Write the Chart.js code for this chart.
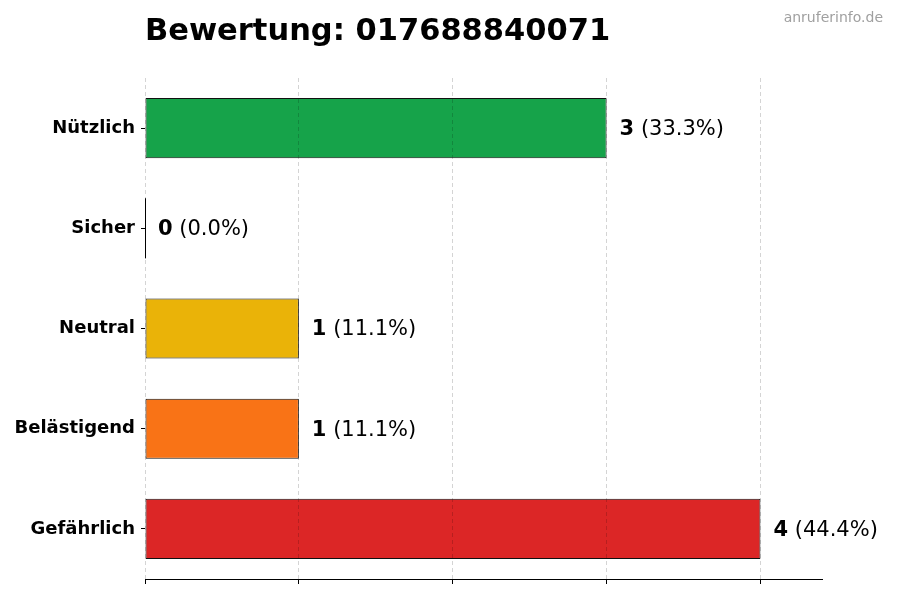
<!DOCTYPE html>
<html>
<head>
<meta charset="utf-8">
<script src="https://cdn.jsdelivr.net/npm/chart.js@4"></script>
<style>
  html, body { margin: 0; padding: 0; background: #fff; }
  #wrap { width: 900px; height: 600px; }
</style>
</head>
<body>
<div id="wrap"><canvas id="myChart" width="900" height="600"></canvas></div>
<script>
const categories = ['Nützlich', 'Sicher', 'Neutral', 'Belästigend', 'Gefährlich'];
const counts = [3, 0, 1, 1, 4];
const barColours = ['#16a34a', '#2563eb', '#eab308', '#f97316', '#dc2626'];
const titleText = 'Bewertung: 017688840071';
const watermark = 'anruferinfo.de';

const total = counts.reduce((a, b) => a + b, 0);
const FONT = '"DejaVu Sans", sans-serif';

// title, watermark, value labels and the hairline for empty bars
const extrasPlugin = {
    id: 'extras',
    afterDatasetsDraw(chart) {
        const ctx = chart.ctx;
        const meta = chart.getDatasetMeta(0);
        ctx.save();
        meta.data.forEach((bar, i) => {
            const v = counts[i];
            if (v === 0) {
                const half = bar.height / 2;
                ctx.strokeStyle = '#000';
                ctx.lineWidth = 1;
                ctx.beginPath();
                ctx.moveTo(Math.round(bar.x) + 0.5, bar.y - half);
                ctx.lineTo(Math.round(bar.x) + 0.5, bar.y + half);
                ctx.stroke();
            }
            let x = bar.x + 13;
            const y = bar.y + 1.5;
            ctx.textBaseline = 'middle';
            ctx.textAlign = 'left';
            ctx.fillStyle = '#000';
            ctx.font = 'bold 21px ' + FONT;
            const bold = String(v);
            ctx.fillText(bold, x, y);
            x += ctx.measureText(bold).width;
            ctx.font = '21px ' + FONT;
            x += ctx.measureText(' ').width;
            ctx.fillText('(' + (v / total * 100).toFixed(1) + '%)', x, y);
        });
        ctx.restore();
    },
    afterDraw(chart) {
        const ctx = chart.ctx;
        ctx.save();
        ctx.textBaseline = 'alphabetic';
        ctx.textAlign = 'left';
        ctx.fillStyle = '#000';
        ctx.font = 'bold 30.5px ' + FONT;
        ctx.fillText(titleText, chart.chartArea.left, 40);
        ctx.textAlign = 'right';
        ctx.fillStyle = '#a0a0a0';
        ctx.font = '14px ' + FONT;
        ctx.fillText(watermark, 883, 22);
        ctx.restore();
    }
};

const data = {
    labels: categories,
    datasets: [{
        data: counts,
        backgroundColor: barColours,
        borderColor: '#111',
        borderWidth: 1,
        borderSkipped: false,
        barPercentage: 0.6,
        categoryPercentage: 1.0
    }]
};

const config = {
    type: 'bar',
    data: data,
    options: {
        indexAxis: 'y',
        responsive: false,
        animation: false,
        devicePixelRatio: 1,
        layout: {
            padding: { top: 78, right: 78, bottom: 0, left: 0 }
        },
        plugins: {
            legend: { display: false },
            title: { display: false },
            tooltip: { enabled: false }
        },
        scales: {
            x: {
                min: 0,
                max: 4.4,
                ticks: { display: false, stepSize: 1 },
                afterBuildTicks: axis => {
                    axis.ticks = axis.ticks.filter(t => Number.isInteger(t.value));
                },
                afterFit: scale => { scale.height = 21; },
                grid: {
                    z: 1,
                    color: 'rgba(0,0,0,0.17)',
                    lineWidth: 1,
                    drawTicks: true,
                    tickLength: 5,
                    tickColor: '#000',
                    tickWidth: 1,
                    tickBorderDash: []
                },
                border: { display: true, color: '#000', width: 1, dash: [4, 3], z: 1 }
            },
            y: {
                ticks: {
                    color: '#000',
                    padding: 6,
                    font: { family: FONT, size: 18, weight: 'bold' }
                },
                afterFit: scale => { scale.width = 145; },
                grid: {
                    offset: false,
                    drawOnChartArea: false,
                    drawTicks: true,
                    tickLength: 4,
                    tickColor: '#000'
                },
                border: { display: false }
            }
        }
    },
    plugins: [extrasPlugin]
};

const myChart = new Chart(
    document.getElementById('myChart'),
    config
);
</script>
</body>
</html>
